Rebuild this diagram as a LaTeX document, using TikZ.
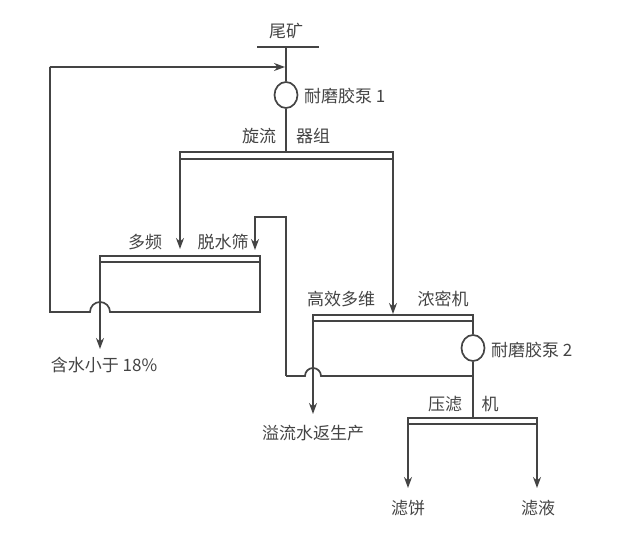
\documentclass[tikz,border=0pt]{standalone}
\usepackage{fontspec}
\setmainfont{Noto Sans CJK SC}
\usetikzlibrary{arrows.meta,shapes.geometric}
\definecolor{ink}{HTML}{444444}
\tikzset{
  line/.style={draw=ink,line width=1.7pt},
  flow/.style={line,-{Stealth[length=11pt,width=8pt]}},
  lbl/.style={text=ink,font=\fontsize{17}{17}\selectfont,inner sep=0pt},
  pump/.style={draw=ink,line width=1.7pt,ellipse,minimum width=23pt,minimum height=26pt,inner sep=0pt},
}
\begin{document}
\begin{tikzpicture}[x=1pt,y=-1pt]
  \useasboundingbox (0,0) rectangle (640,551);

  % feed and first pump
  \node[lbl] (feed) at (286,31) {尾矿};
  \draw[line] (257,47) -- (319,47);
  \node[pump] (p1) at (286,95) {};
  \node[lbl,anchor=west] (p1l) at (304,96) {耐磨胶泵 1};
  \coordinate (top) at (286,47);
  \draw[line] (top) -- (p1.north);

  % cyclone group
  \node[lbl] (cyc1) at (259,136) {旋流};
  \node[lbl] (cyc2) at (313,136) {器组};
  \draw[line] (p1.south) -- (286,152);
  \draw[line] (180,152) rectangle (393,159);
  \coordinate (scrin) at (180,249);
  \coordinate (thkin) at (393,314);
  \draw[flow] (180,159) -- (scrin);
  \draw[flow] (393,159) -- (thkin);

  % dewatering screen
  \node[lbl] (scr1) at (145,242) {多频};
  \node[lbl] (scr2) at (223,242) {脱水筛};
  \draw[line] (100,256) rectangle (260,262);
  \draw[flow] (286,376) -- (286,217) -- (255,217) -- (255,250);
  \draw[line] (286,376) -- (305,376) arc (180:360:8) -- (473,376);
  \draw[line] (260,262) -- (260,312) -- (110,312) arc (360:180:10)
     -- (50,312) -- (50,67);
  \draw[flow] (50,67) -- (285,67);
  \coordinate (cake1) at (100,349);
  \draw[flow] (100,262) -- (cake1);
  \node[lbl] (dry) at (104,365) {含水小于 18\%};

  % thickener
  \node[lbl] (thk1) at (341,299) {高效多维};
  \node[lbl] (thk2) at (443,299) {浓密机};
  \draw[line] (313,315) rectangle (473,321);
  \coordinate (ovf) at (313,414);
  \draw[flow] (313,321) -- (ovf);
  \node[lbl] (ovfl) at (313,433) {溢流水返生产};
  \node[pump] (p2) at (473,348) {};
  \node[lbl,anchor=west] (p2l) at (491,350) {耐磨胶泵 2};
  \draw[line] (473,321) -- (p2.north);
  \draw[line] (p2.south) -- (473,418);

  % filter press
  \node[lbl] (fp1) at (445,404) {压滤};
  \node[lbl] (fp2) at (490,404) {机};
  \draw[line] (408,418) rectangle (537,424);
  \coordinate (cake) at (408,488);
  \coordinate (filt) at (537,488);
  \draw[flow] (408,424) -- (cake);
  \draw[flow] (537,424) -- (filt);
  \node[lbl] (cakel) at (408,508) {滤饼};
  \node[lbl] (filtl) at (538,508) {滤液};
\end{tikzpicture}
\end{document}
